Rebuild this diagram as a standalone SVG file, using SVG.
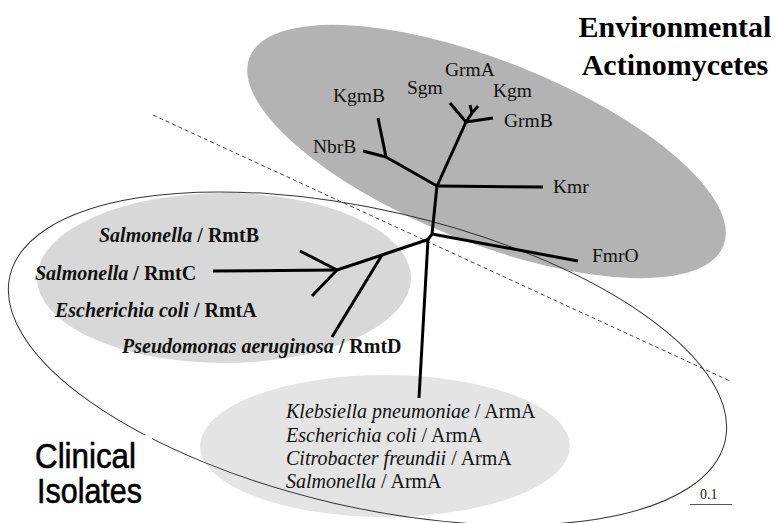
<svg xmlns="http://www.w3.org/2000/svg" width="778" height="523" viewBox="0 0 778 523">
<style>
.lbl{font-family:"Liberation Serif","Times New Roman",serif;font-size:19.5px;fill:#111}
.rmt{font-family:"Liberation Serif","Times New Roman",serif;font-size:20px;font-weight:bold;fill:#111}
.arm{font-family:"Liberation Serif","Times New Roman",serif;font-size:20px;fill:#111}
.sp{font-style:italic}
.title{font-family:"Liberation Serif","Times New Roman",serif;font-size:30px;font-weight:bold;fill:#000}
.clin{font-family:"Liberation Sans",Arial,sans-serif;font-size:35px;fill:#000;stroke:#000;stroke-width:0.6}
.br{fill:none;stroke:#000;stroke-width:3;stroke-linecap:butt;stroke-linejoin:round}
</style>
<rect width="778" height="523" fill="#fff"/>
<g id="regions">
<ellipse id="env-region" cx="486.5" cy="151.5" rx="255" ry="91" transform="rotate(21.7 486.5 151.5)" fill="#b3b3b3"/>
<rect x="567" y="0" width="211" height="88" fill="#fff"/>
<ellipse id="rmt-region" cx="224" cy="278" rx="187" ry="85" fill="#d8d8d8"/>
<ellipse id="arma-region" cx="385" cy="446" rx="185" ry="71" fill="#e4e4e4"/>
<ellipse id="clinical-region" cx="367.5" cy="358.5" rx="367" ry="148.5" transform="rotate(13 367.5 358.5)" fill="none" stroke="#333" stroke-width="1"/>
<rect x="30" y="435" width="122" height="75" fill="#fff"/>
<line id="divider" x1="153" y1="115" x2="730" y2="381" stroke="#444" stroke-width="1" stroke-dasharray="4 3"/>
</g>
<g id="connectors">
<polyline class="br" points="437,186 432,234 428,239.5"/>
<line class="br" x1="432" y1="234" x2="578" y2="261"/>
<line class="br" x1="437" y1="186" x2="543" y2="187"/>
<line class="br" x1="437" y1="186" x2="386" y2="157"/>
<line class="br" x1="386" y1="157" x2="363" y2="151"/>
<line class="br" x1="386" y1="157" x2="378" y2="118"/>
<line class="br" x1="437" y1="186" x2="466" y2="122"/>
<line class="br" x1="466" y1="122" x2="450" y2="103"/>
<line class="br" x1="466" y1="122" x2="493" y2="118"/>
<line class="br" x1="466" y1="122" x2="472" y2="113"/>
<line class="br" x1="472" y1="113" x2="470" y2="105" stroke-width="2"/>
<line class="br" x1="472" y1="113" x2="478" y2="106" stroke-width="2"/>
<line class="br" x1="428" y1="239.5" x2="382" y2="255"/>
<line class="br" x1="382" y1="255" x2="332" y2="337"/>
<line class="br" x1="382" y1="255" x2="337" y2="270"/>
<line class="br" x1="337" y1="270" x2="213" y2="271" stroke-width="4"/>
<line class="br" x1="337" y1="270" x2="300" y2="251"/>
<line class="br" x1="337" y1="270" x2="312" y2="296"/>
<line class="br" x1="428" y1="239.5" x2="419" y2="398"/>
</g>
<g id="node-GrmA"><text class="lbl" x="445" y="76">GrmA</text></g>
<g id="node-Sgm"><text class="lbl" x="407" y="94">Sgm</text></g>
<g id="node-Kgm"><text class="lbl" x="493" y="97">Kgm</text></g>
<g id="node-KgmB"><text class="lbl" x="333" y="102">KgmB</text></g>
<g id="node-GrmB"><text class="lbl" x="504" y="127">GrmB</text></g>
<g id="node-NbrB"><text class="lbl" x="313" y="153">NbrB</text></g>
<g id="node-Kmr"><text class="lbl" x="553" y="193">Kmr</text></g>
<g id="node-FmrO"><text class="lbl" x="592" y="262">FmrO</text></g>
<g id="node-RmtB"><text class="rmt" x="99" y="242"><tspan class="sp">Salmonella</tspan> / RmtB</text></g>
<g id="node-RmtC"><text class="rmt" x="35" y="280"><tspan class="sp">Salmonella</tspan> / RmtC</text></g>
<g id="node-RmtA"><text class="rmt" x="55" y="317"><tspan class="sp">Escherichia coli</tspan> / RmtA</text></g>
<g id="node-RmtD"><text class="rmt" x="122" y="353"><tspan class="sp">Pseudomonas aeruginosa</tspan> / RmtD</text></g>
<g id="node-ArmA">
<text class="arm" x="286" y="418"><tspan class="sp">Klebsiella pneumoniae</tspan> / ArmA</text>
<text class="arm" x="286" y="442"><tspan class="sp">Escherichia coli</tspan> / ArmA</text>
<text class="arm" x="286" y="465"><tspan class="sp">Citrobacter freundii</tspan> / ArmA</text>
<text class="arm" x="286" y="488"><tspan class="sp">Salmonella</tspan> / ArmA</text>
</g>
<g id="label-env">
<text class="title" x="675" y="37" text-anchor="middle">Environmental</text>
<text class="title" x="675" y="75" text-anchor="middle">Actinomycetes</text>
</g>
<g id="label-clinical">
<text class="clin" x="35" y="468" textLength="101" lengthAdjust="spacingAndGlyphs">Clinical</text>
<text class="clin" x="37" y="503" textLength="105" lengthAdjust="spacingAndGlyphs">Isolates</text>
</g>
<g id="scale">
<line x1="690" y1="504.5" x2="732" y2="504.5" stroke="#555" stroke-width="1"/>
<text x="700" y="499" font-family="Liberation Serif,serif" font-size="14" fill="#222">0.1</text>
</g>
</svg>
